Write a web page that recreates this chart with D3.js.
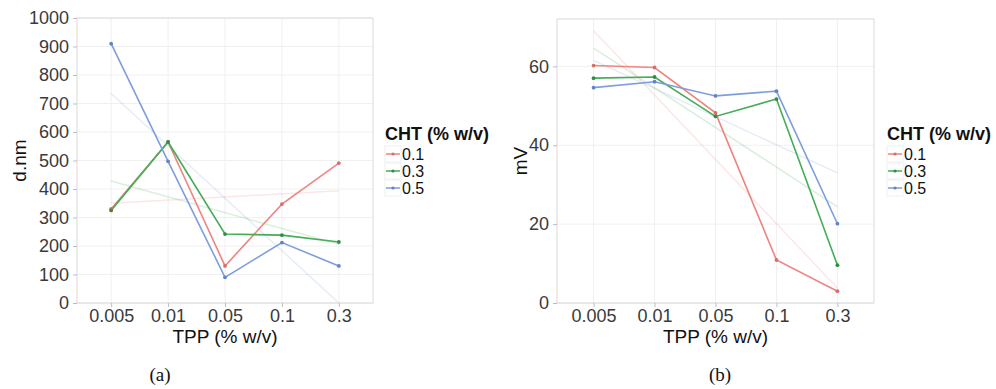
<!DOCTYPE html>
<html>
<head>
<meta charset="utf-8">
<script src="https://cdn.jsdelivr.net/npm/d3@7"></script>
<style>
  body { margin: 0; background: #fff; }
  text { font-family: "Liberation Sans", Arial, sans-serif; }
</style>
</head>
<body>
<script>
// categories and series
var tppLevels = ["0.005", "0.01", "0.05", "0.1", "0.3"];
var chtLevels = ["0.1", "0.3", "0.5"];

// panel (a): particle size d.nm
var sizeCht01 = [330, 565, 130, 347, 491];
var sizeCht03 = [325, 565, 242, 238, 214];
var sizeCht05 = [910, 497, 90, 212, 130];
// faint trend lines (first and last category)
var sizeTrend01 = [350, 394];
var sizeTrend03 = [428, 206];
var sizeTrend05 = [735, 0];
var sizeTicks = [0, 100, 200, 300, 400, 500, 600, 700, 800, 900, 1000];

// panel (b): zeta potential mV
var zetaCht01 = [60.2, 59.7, 48.2, 10.9, 3.0];
var zetaCht03 = [57.0, 57.3, 47.3, 51.7, 9.6];
var zetaCht05 = [54.6, 56.1, 52.5, 53.7, 20.1];
var zetaTrend01 = [69.0, 3.8];
var zetaTrend03 = [64.6, 24.4];
var zetaTrend05 = [61.5, 33.0];
var zetaTicks = [0, 20, 40, 60];

var lineColors = ["#ee8580", "#45ad57", "#7d9edb"];
var dotColors = ["#d66e69", "#2f8d45", "#6583c2"];

var svg = d3.select("body").append("svg")
    .attr("width", 996)
    .attr("height", 389);

function drawPanel(p) {
    var g = svg.append("g");

    var x = d3.scalePoint()
        .domain(tppLevels)
        .range([p.left, p.right])
        .padding(0.6);

    var y = d3.scaleLinear()
        .domain(p.yDomain)
        .range([p.bottom, p.top]);

    // grid
    g.selectAll(".hgrid")
        .data(p.ticks)
        .enter().append("line")
        .attr("x1", p.left).attr("x2", p.right)
        .attr("y1", function(d) { return y(d); })
        .attr("y2", function(d) { return y(d); })
        .attr("stroke", "#f0f0f0")
        .attr("stroke-width", 1);

    g.selectAll(".vgrid")
        .data(tppLevels)
        .enter().append("line")
        .attr("y1", p.top).attr("y2", p.bottom)
        .attr("x1", function(d) { return x(d); })
        .attr("x2", function(d) { return x(d); })
        .attr("stroke", "#f0f0f0")
        .attr("stroke-width", 1);

    // trend lines
    p.trends.forEach(function(t, i) {
        g.append("line")
            .attr("x1", x(tppLevels[0]))
            .attr("x2", x(tppLevels[tppLevels.length - 1]))
            .attr("y1", y(t[0]))
            .attr("y2", y(t[1]))
            .attr("stroke", lineColors[i])
            .attr("stroke-opacity", 0.2)
            .attr("stroke-width", 1.5);
    });

    // series lines and points
    var line = d3.line()
        .x(function(d, i) { return x(tppLevels[i]); })
        .y(function(d) { return y(d); });

    p.series.forEach(function(s, i) {
        g.append("path")
            .datum(s)
            .attr("d", line)
            .attr("fill", "none")
            .attr("stroke", lineColors[i])
            .attr("stroke-width", 1.6);
    });

    p.series.forEach(function(s, i) {
        g.selectAll(".dot" + i)
            .data(s)
            .enter().append("circle")
            .attr("cx", function(d, j) { return x(tppLevels[j]); })
            .attr("cy", function(d) { return y(d); })
            .attr("r", 1.9)
            .attr("fill", dotColors[i]);
    });

    // panel border
    g.append("rect")
        .attr("x", p.left).attr("y", p.top)
        .attr("width", p.right - p.left)
        .attr("height", p.bottom - p.top)
        .attr("fill", "none")
        .attr("stroke", "#dadada")
        .attr("stroke-width", 1);

    // axes
    var yAxis = g.append("g")
        .attr("transform", "translate(" + p.left + ",0)")
        .attr("font-family", "Liberation Sans, Arial, sans-serif")
        .call(d3.axisLeft(y).tickValues(p.ticks).tickFormat(d3.format("d")).tickSize(4).tickPadding(4));
    yAxis.select(".domain").remove();
    yAxis.selectAll("line").attr("stroke", "#bdbdbd");
    yAxis.selectAll("text")
        .attr("font-size", 18)
        .attr("fill", "#3a3a3a");

    var xAxis = g.append("g")
        .attr("transform", "translate(0," + p.bottom + ")")
        .attr("font-family", "Liberation Sans, Arial, sans-serif")
        .call(d3.axisBottom(x).tickSize(4).tickPadding(2));
    xAxis.select(".domain").remove();
    xAxis.selectAll("line").attr("stroke", "#bdbdbd");
    xAxis.selectAll("text")
        .attr("font-size", 18)
        .attr("fill", "#3a3a3a")
        .attr("dy", "0.71em");

    // axis titles
    g.append("text")
        .attr("x", (p.left + p.right) / 2)
        .attr("y", 343)
        .attr("text-anchor", "middle")
        .attr("font-size", 19)
        .attr("fill", "#111")
        .text("TPP (% w/v)");

    g.append("text")
        .attr("transform", "translate(" + p.yTitleX + "," + ((p.top + p.bottom) / 2) + ") rotate(-90)")
        .attr("text-anchor", "middle")
        .attr("font-size", 19)
        .attr("fill", "#111")
        .text(p.yTitle);

    // legend
    var lg = g.append("g");
    lg.append("text")
        .attr("x", p.legendX)
        .attr("y", 140)
        .attr("font-size", 18)
        .attr("font-weight", "bold")
        .attr("fill", "#111")
        .text("CHT (% w/v)");

    chtLevels.forEach(function(c, i) {
        var cy = 154 + i * 17;
        lg.append("rect")
            .attr("x", p.legendX).attr("y", cy - 8)
            .attr("width", 16).attr("height", 16)
            .attr("fill", "#fff")
            .attr("stroke", "#f0f0f0");
        lg.append("line")
            .attr("x1", p.legendX + 1).attr("x2", p.legendX + 15)
            .attr("y1", cy).attr("y2", cy)
            .attr("stroke", lineColors[i])
            .attr("stroke-width", 1.5);
        lg.append("circle")
            .attr("cx", p.legendX + 8).attr("cy", cy)
            .attr("r", 1.6)
            .attr("fill", dotColors[i]);
        lg.append("text")
            .attr("x", p.legendX + 17)
            .attr("y", cy + 6)
            .attr("font-size", 16)
            .attr("fill", "#111")
            .text(c);
    });

    // sub-figure label
    g.append("text")
        .attr("x", p.labelX)
        .attr("y", 381)
        .attr("text-anchor", "middle")
        .attr("font-size", 19)
        .style("font-family", "Liberation Serif, serif")
        .attr("fill", "#111")
        .text(p.label);
}

drawPanel({
    left: 77, right: 373, top: 18, bottom: 303,
    yDomain: [0, 1000],
    ticks: sizeTicks,
    series: [sizeCht01, sizeCht03, sizeCht05],
    trends: [sizeTrend01, sizeTrend03, sizeTrend05],
    yTitle: "d.nm", yTitleX: 26,
    legendX: 385,
    label: "(a)", labelX: 160
});

drawPanel({
    left: 557, right: 874, top: 19, bottom: 303,
    yDomain: [0, 72],
    ticks: zetaTicks,
    series: [zetaCht01, zetaCht03, zetaCht05],
    trends: [zetaTrend01, zetaTrend03, zetaTrend05],
    yTitle: "mV", yTitleX: 527,
    legendX: 887,
    label: "(b)", labelX: 720
});
</script>
</body>
</html>
